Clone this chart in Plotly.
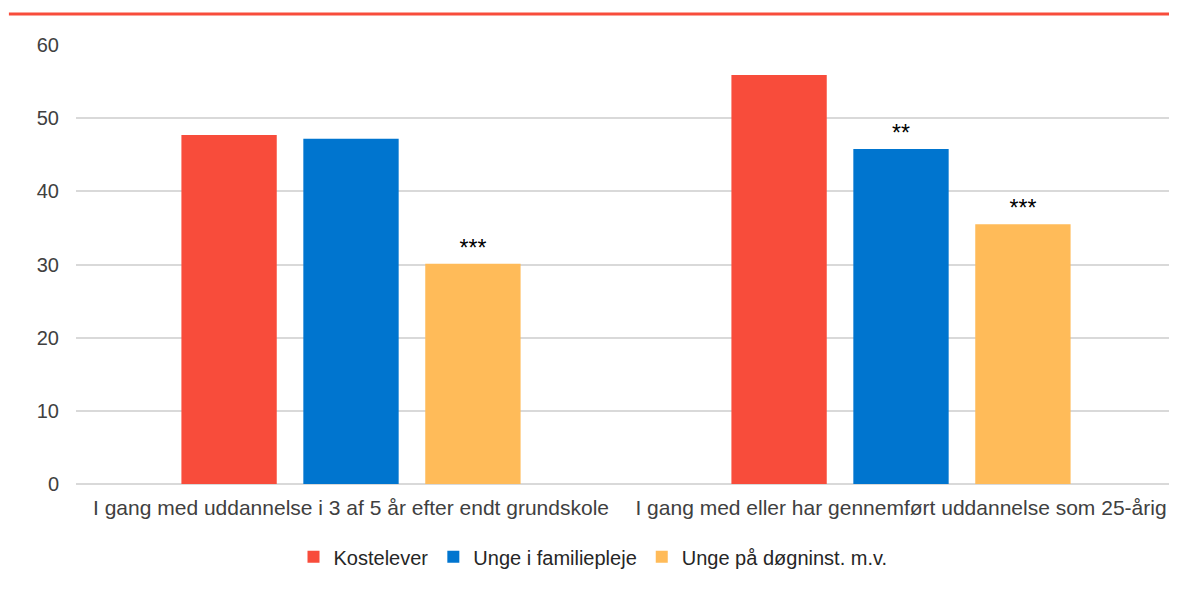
import plotly.graph_objects as go

CATEGORIES = [
    "I gang med uddannelse i 3 af 5 år efter endt grundskole",
    "I gang med eller har gennemført uddannelse som 25-årig",
]
SERIES = ["Kostelever", "Unge i familiepleje", "Unge på døgninst. m.v."]
VALUES = [
    [47.7, 55.9],
    [47.2, 45.8],
    [30.1, 35.5],
]
STARS = [
    ["", ""],
    ["", "**"],
    ["***", "***"],
]
COLORS = ["#F84C3B", "#0075CF", "#FFBB59"]
Y_TICKS = [0, 10, 20, 30, 40, 50, 60]

FONT = "Liberation Sans, Arial, sans-serif"
TEXT = "#404040"

fig = go.Figure()
for name, vals, stars, color in zip(SERIES, VALUES, STARS, COLORS):
    fig.add_trace(
        go.Bar(
            name=name,
            x=CATEGORIES,
            y=vals,
            marker=dict(color=color, line=dict(width=0)),
            text=stars,
            textposition="outside",
            textfont=dict(size=23, color="#000000", family=FONT),
            cliponaxis=False,
        )
    )

# the page body adds an 8px offset, so the figure is sized to the remaining window
fig.update_layout(
    width=1169,
    height=582,
    barmode="group",
    bargap=0.335,
    bargroupgap=0.218,
    margin=dict(l=68, r=1, t=37, b=106),
    paper_bgcolor="white",
    plot_bgcolor="white",
    font=dict(family=FONT, size=21, color=TEXT),
    legend=dict(
        orientation="h",
        x=0.47,
        xanchor="center",
        y=-0.166,
        yanchor="middle",
        font=dict(size=20, color="#262626"),
        itemwidth=30,
        traceorder="normal",
    ),
    shapes=[
        dict(
            type="line",
            xref="paper",
            yref="paper",
            x0=-0.061,
            x1=1.005,
            y0=1.0706,
            y1=1.0706,
            line=dict(color="#F84C3B", width=3),
        )
    ],
)
fig.update_yaxes(
    range=[0, 60],
    tickvals=Y_TICKS,
    showgrid=True,
    gridcolor="#D9D9D9",
    gridwidth=1.5,
    zeroline=True,
    zerolinecolor="#D9D9D9",
    zerolinewidth=1.5,
    ticks="",
    ticklabelstandoff=16,
    tickfont=dict(size=20, color=TEXT),
    fixedrange=True,
)
fig.update_xaxes(
    showgrid=False,
    showline=False,
    ticks="",
    ticklabelstandoff=9,
    tickfont=dict(size=21, color=TEXT),
    fixedrange=True,
)

fig.write_html("out.html")
